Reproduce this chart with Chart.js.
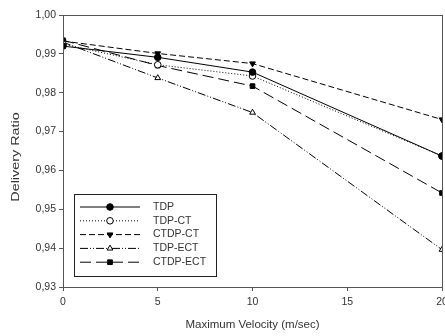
<!DOCTYPE html>
<html>
<head>
<meta charset="utf-8">
<script src="https://cdn.jsdelivr.net/npm/chart.js@4"></script>
<style>
  html, body { margin: 0; padding: 0; background: #fff; overflow: hidden; }
  #wrap { width: 460px; height: 336px; }
</style>
</head>
<body>
<div id="wrap"><canvas id="deliveryChart" width="460" height="336"></canvas></div>
<script>
// max velocity (m/sec)
const velocities = [0, 5, 10, 20];
const xTicks = [0, 5, 10, 15, 20];

const tdp = [0.9920, 0.9891, 0.9853, 0.9637];
const tdpCt = [0.9925, 0.9872, 0.9843, 0.9637];
const ctdpCt = [0.9933, 0.9901, 0.9875, 0.9731];
const tdpEct = [0.9930, 0.9838, 0.9749, 0.9396];
const ctdpEct = [0.9935, 0.9870, 0.9817, 0.9542];

const seriesNames = ['TDP', 'TDP-CT', 'CTDP-CT', 'TDP-ECT', 'CTDP-ECT'];
const yTitle = 'Delivery Ratio';
const xTitle = 'Maximum Velocity (m/sec)';

const textColor = '#333';
const axisColor = '#555';
const fontFamily = '"Liberation Sans", Arial, sans-serif';

function toPoints(vals) {
  return vals.map((v, i) => ({ x: velocities[i], y: v }));
}

function makeSet(label, vals, style) {
  return Object.assign({
    label: label,
    data: toPoints(vals),
    borderColor: '#000',
    borderWidth: 1,
    pointBorderColor: '#000',
    pointBorderWidth: 1,
    pointRadius: 3.3,
    fill: false,
    tension: 0
  }, style);
}

const datasets = [
  makeSet(seriesNames[0], tdp, { borderDash: [], pointStyle: 'circle', pointBackgroundColor: '#000' }),
  makeSet(seriesNames[1], tdpCt, { borderDash: [1, 2], pointStyle: 'circle', pointBackgroundColor: '#fff' }),
  makeSet(seriesNames[2], ctdpCt, { borderDash: [6, 3], pointStyle: 'triangle', rotation: 180, pointBackgroundColor: '#000' }),
  makeSet(seriesNames[3], tdpEct, { borderDash: [8, 2, 1, 2, 1, 2], pointStyle: 'triangle', pointBackgroundColor: '#fff' }),
  makeSet(seriesNames[4], ctdpEct, { borderDash: [11, 5], pointStyle: 'rect', pointBackgroundColor: '#000' })
];

// box round the plot, the y title, and the legend sitting inside the plot
const framePlugin = {
  id: 'frame',
  afterDatasetsDraw(chart) {
    const ctx = chart.ctx;
    const a = chart.chartArea;
    ctx.save();
    ctx.strokeStyle = axisColor;
    ctx.lineWidth = 1;
    ctx.strokeRect(a.left + 0.5, a.top + 0.5, a.right - a.left, a.bottom - a.top);

    // y title (the original is a bit stretched vertically)
    ctx.save();
    ctx.translate(16, (a.top + a.bottom) / 2 + 6);
    ctx.rotate(-Math.PI / 2);
    ctx.scale(1.25, 1);
    ctx.font = '11.5px ' + fontFamily;
    ctx.fillStyle = textColor;
    ctx.textAlign = 'center';
    ctx.textBaseline = 'middle';
    ctx.fillText(yTitle, 0, 0);
    ctx.restore();

    // legend
    const bx = a.left + 11, by = a.top + 179, bw = 142, bh = 82;
    ctx.fillStyle = '#fff';
    ctx.fillRect(bx, by, bw, bh);
    ctx.strokeStyle = '#222';
    ctx.strokeRect(bx + 0.5, by + 0.5, bw, bh);
    ctx.font = '10.5px ' + fontFamily;
    ctx.textBaseline = 'middle';
    chart.data.datasets.forEach((ds, i) => {
      const y = by + 13 + i * 13.8;
      ctx.strokeStyle = ds.borderColor;
      ctx.lineWidth = ds.borderWidth;
      ctx.setLineDash(ds.borderDash);
      ctx.beginPath();
      ctx.moveTo(bx + 6, y);
      ctx.lineTo(bx + 66, y);
      ctx.stroke();
      ctx.setLineDash([]);
      ctx.fillStyle = ds.pointBackgroundColor;
      ctx.strokeStyle = ds.pointBorderColor;
      Chart.helpers.drawPoint(ctx, {
        pointStyle: ds.pointStyle,
        radius: ds.pointRadius,
        rotation: ds.rotation || 0,
        borderWidth: 1
      }, bx + 36, y);
      ctx.fillStyle = textColor;
      ctx.fillText(ds.label, bx + 79, y);
    });
    ctx.restore();
  }
};

new Chart(document.getElementById('deliveryChart'), {
  type: 'line',
  data: { datasets: datasets },
  plugins: [framePlugin],
  options: {
    responsive: false,
    animation: false,
    layout: { padding: { top: 15, right: 18, left: 0, bottom: 0 } },
    plugins: {
      legend: { display: false },
      tooltip: { enabled: false }
    },
    scales: {
      x: {
        type: 'linear',
        min: 0,
        max: 20,
        afterBuildTicks: axis => { axis.ticks = xTicks.map(v => ({ value: v })); },
        grid: { display: true, drawOnChartArea: false, tickLength: 4, color: axisColor },
        border: { color: axisColor },
        ticks: { color: textColor, font: { family: fontFamily, size: 10.5 }, padding: 5, maxRotation: 0 },
        title: { display: true, text: xTitle, color: textColor, font: { family: fontFamily, size: 11.5 }, padding: { top: 6, bottom: 4 } },
        afterFit: axis => { axis.height = 49; }
      },
      y: {
        min: 0.93,
        max: 1.0,
        ticks: {
          stepSize: 0.01,
          color: textColor,
          font: { family: fontFamily, size: 10.5 },
          padding: 3,
          callback: v => v.toFixed(2).replace('.', ',')
        },
        grid: { display: true, drawOnChartArea: false, tickLength: 4, color: axisColor },
        border: { color: axisColor },
        title: { display: false },
        afterFit: axis => { axis.width = 63; }
      }
    }
  }
});
</script>
</body>
</html>
